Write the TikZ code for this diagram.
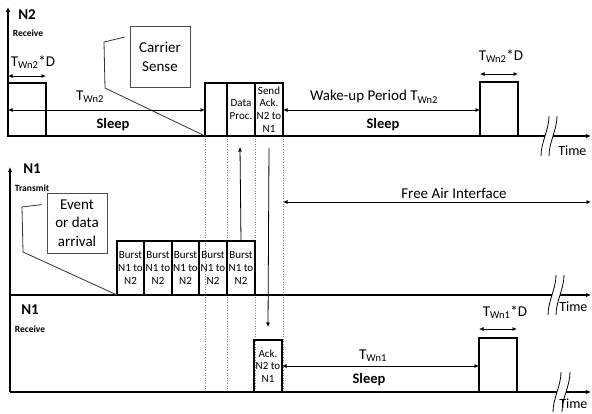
\documentclass[tikz,border=0pt]{standalone}
\usepackage{fontspec}
\setmainfont{Carlito}
\usetikzlibrary{arrows.meta,positioning}
\begin{document}
\begin{tikzpicture}[x=1pt, y=-1pt,
    axis/.style={-{Latex[length=5pt,width=4.5pt]}, line width=1.1pt},
    tl/.style={line width=1.6pt},
    dim/.style={{Latex[length=4.5pt,width=4pt]}-{Latex[length=4.5pt,width=4pt]}, line width=0.8pt},
    sig/.style={-{Latex[length=4.5pt,width=4pt]}, line width=0.8pt},
    slot/.style={rectangle, draw, line width=1.6pt, inner sep=0pt, outer sep=0pt,
        anchor=south west, align=center, font=\fontsize{11}{12.7}\selectfont},
    note/.style={rectangle, draw=black!70, line width=0.8pt, align=center,
        font=\fontsize{15}{18.3}\selectfont},
    call/.style={draw=black!80, line width=0.8pt},
    brk/.style={line width=0.8pt},
    guide/.style={dotted, black!50, line width=0.6pt},
    title/.style={font=\bfseries\fontsize{15}{18}\selectfont},
    role/.style={font=\bfseries\fontsize{9.5}{11}\selectfont},
    lbl/.style={font=\fontsize{15}{18}\selectfont},
    tlab/.style={font=\fontsize{14}{16}\selectfont, anchor=east},
    phase/.style={font=\bfseries\fontsize{14.5}{17}\selectfont}
]
    \useasboundingbox (0,0) rectangle (592,414);
    \fill[white] (0,0) rectangle (592,414);

    \coordinate (o2) at (8,136);
    \coordinate (o1) at (10,392);

    % N2 receive
    \node[title] (n2) at (27,15) {N2};
    \node[role] (n2rx) at (28,33) {Receive};
    \node[slot, minimum width=38pt, minimum height=53pt] (wake2a) at (o2) {};
    \node[slot, minimum width=22pt, minimum height=53pt] (cs) at (205,136) {};
    \node[slot, minimum width=28pt, minimum height=53pt] (proc) at (cs.south east) {Data\\Proc.};
    \node[slot, minimum width=28pt, minimum height=53pt] (ack2) at (proc.south east) {Send\\Ack.\\N2 to\\N1};
    \node[slot, minimum width=38pt, minimum height=54pt] (wake2b) at (480,136) {};

    \foreach \a in {cs.south west, proc.south west, ack2.south west, ack2.south east}
        \draw[guide] (\a) -- (\a |- o1);

    \draw[axis] (o2) -- (8,7);
    \draw[tl] (o2) -- (545,136);
    \draw[brk] (549,116) .. controls (549,130) and (541,142) .. (541,156);
    \draw[brk] (557,116) .. controls (557,130) and (549,142) .. (549,156);
    \draw[axis, line width=1.6pt] (553,136) -- (591,136);
    \node[tlab] (time2) at (590,151) {Time};

    \node[note, minimum width=60pt, minimum height=61pt] (carrier) at (160,57) {Carrier\\Sense};
    \draw[call] ([shift={(-5,11)}]carrier.north west) -- (104,42) -- (105,88) -- (cs.south west);

    \draw[dim] ([yshift=7pt]wake2a.north west) -- ([yshift=7pt]wake2a.north east);
    \node[lbl] (d2a) at (33,62) {T\textsubscript{Wn2}*D};
    \draw[dim] ([yshift=26pt]o2) -- ([yshift=26pt]cs.south west);
    \node[lbl] (t2a) at (90,97) {T\textsubscript{Wn2}};
    \node[phase] (sleep2a) at (113,125) {Sleep};

    \draw[dim] ([yshift=26pt]ack2.south east) -- ([yshift=26pt]wake2b.south west);
    \node[lbl] (t2b) at (374,97) {Wake-up Period T\textsubscript{Wn2}};
    \node[phase] (sleep2b) at (383,125) {Sleep};
    \draw[dim] ([yshift=8pt]wake2b.north west) -- ([yshift=8pt]wake2b.north east);
    \node[lbl] (d2b) at (501,56) {T\textsubscript{Wn2}*D};

    % N1 transmit
    \node[title] (n1tx) at (32,169) {N1};
    \node[role] (n1txr) at (32,188) {Transmit};
    \draw[axis] (o1) -- (10,167);
    \draw[tl] (10,295) -- (552,295);
    \draw[brk] (556,275) .. controls (556,289) and (548,301) .. (548,315);
    \draw[brk] (564,275) .. controls (564,289) and (556,301) .. (556,315);
    \draw[axis, line width=1.6pt] (560,295) -- (591,295);
    \node[tlab] (time1) at (591,307) {Time};

    \node[slot, minimum width=27pt, minimum height=54pt] (b1) at (117,295) {Burst\\N1 to\\N2};
    \node[slot, minimum width=28pt, minimum height=54pt] (b2) at (b1.south east) {Burst\\N1 to\\N2};
    \node[slot, minimum width=27pt, minimum height=54pt] (b3) at (b2.south east) {Burst\\N1 to\\N2};
    \node[slot, minimum width=28pt, minimum height=54pt] (b4) at (b3.south east) {Burst\\N1 to\\N2};
    \node[slot, minimum width=28pt, minimum height=54pt] (b5) at (b4.south east) {Burst\\N1 to\\N2};

    \node[note, minimum width=60pt, minimum height=60pt] (event) at (77,223) {Event\\or data\\arrival};
    \draw[call] ([shift={(-5,12)}]event.north west) -- (22,207) -- (23,252) -- (b1.south west);

    \coordinate (upend) at (240,147);
    \draw[sig] (b5.north) -- (upend);

    \coordinate (faL) at (283,202);
    \coordinate (faR) at (591,202);
    \draw[dim] (faL) -- (faR);
    \node[lbl] (fai) at (454,193) {Free Air Interface};

    % N1 receive
    \node[title] (n1rx) at (30,310) {N1};
    \node[role] (n1rxr) at (30,329) {Receive};
    \draw[tl] (o1) -- (557,392);
    \draw[tl] (10,295) -- (o1);
    \draw[brk] (561,372) .. controls (561,386) and (553,398) .. (553,412);
    \draw[brk] (570,372) .. controls (570,386) and (562,398) .. (562,412);
    \draw[axis, line width=1.6pt] (566,392) -- (591,392);
    \node[tlab] (time0) at (591,404) {Time};

    \node[slot, minimum width=28pt, minimum height=52pt] (ack1) at (254,392) {Ack.\\N2 to\\N1};
    \node[slot, minimum width=38pt, minimum height=54pt] (wake1) at (479,392) {};
    \draw[sig] ([yshift=-12pt]ack2.south) -- ([yshift=13pt]ack1.north);

    \draw[dim] ([yshift=26pt]ack1.south east) -- ([yshift=26pt]wake1.south west);
    \node[lbl] (t1) at (373,356) {T\textsubscript{Wn1}};
    \node[phase] (sleep1) at (369,380) {Sleep};
    \draw[dim] ([yshift=9pt]wake1.north west) -- ([yshift=9pt]wake1.north east);
    \node[lbl] (d1) at (505,312) {T\textsubscript{Wn1}*D};
\end{tikzpicture}
\end{document}
